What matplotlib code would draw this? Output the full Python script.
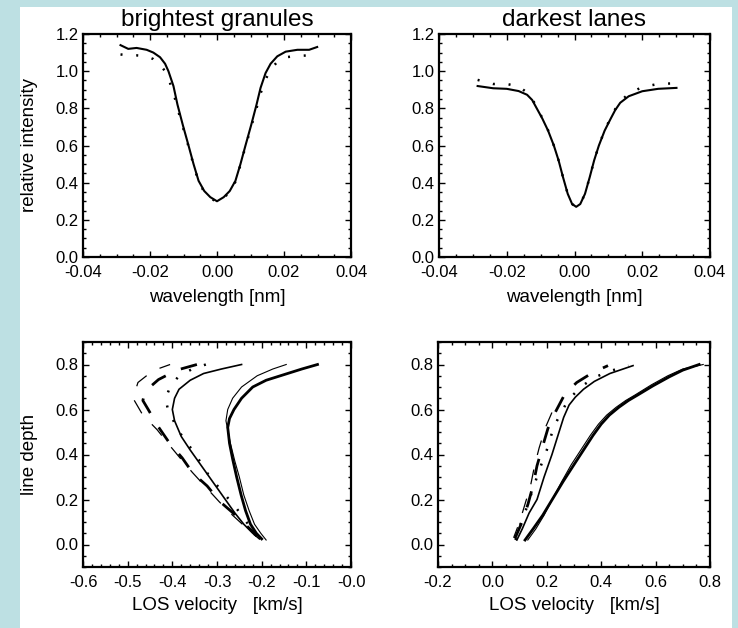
import numpy as np
import matplotlib
matplotlib.use("Agg")
import matplotlib.pyplot as plt
from matplotlib.patches import Rectangle
from matplotlib.ticker import MultipleLocator

plt.rcParams['font.family'] = ['Liberation Sans', 'DejaVu Sans']
plt.rcParams['axes.unicode_minus'] = False

# ---- top row: line profiles (wavelength [nm] vs relative intensity) ----
gran_wl = [-0.0288, -0.0265, -0.0240, -0.0210, -0.0190, -0.0170, -0.0155, -0.0145,
           -0.0130, -0.0118, -0.0102, -0.0085, -0.0070, -0.0055, -0.0038, -0.0020,
           0.0000, 0.0020, 0.0038, 0.0055, 0.0070, 0.0085, 0.0102, 0.0118,
           0.0130, 0.0145, 0.0160, 0.0180, 0.0205, 0.0240, 0.0275, 0.0299]
gran_obs = [1.140, 1.120, 1.125, 1.115, 1.100, 1.075, 1.040, 1.000,
            0.920, 0.820, 0.710, 0.600, 0.500, 0.410, 0.355, 0.322,
            0.300, 0.322, 0.355, 0.410, 0.500, 0.600, 0.710, 0.820,
            0.910, 0.990, 1.040, 1.080, 1.105, 1.115, 1.115, 1.130]
gran_sim = [1.090, 1.085, 1.085, 1.080, 1.065, 1.035, 1.000, 0.960,
            0.885, 0.800, 0.700, 0.595, 0.495, 0.405, 0.350, 0.318,
            0.295, 0.318, 0.350, 0.405, 0.495, 0.595, 0.700, 0.800,
            0.880, 0.955, 1.010, 1.050, 1.075, 1.082, 1.085, 1.090]

lane_wl = [-0.0286, -0.0240, -0.0200, -0.0165, -0.0140, -0.0125, -0.0113, -0.0095,
           -0.0078, -0.0061, -0.0047, -0.0034, -0.0020, -0.0007, 0.0005, 0.0017,
           0.0031, 0.0045, 0.0058, 0.0072, 0.0089, 0.0107, 0.0120, 0.0135,
           0.0160, 0.0200, 0.0247, 0.0301]
lane_obs = [0.920, 0.908, 0.905, 0.893, 0.873, 0.845, 0.805, 0.745,
            0.680, 0.600, 0.520, 0.430, 0.340, 0.285, 0.270, 0.285,
            0.340, 0.430, 0.520, 0.600, 0.680, 0.745, 0.790, 0.830,
            0.865, 0.892, 0.905, 0.910]
lane_sim = [0.953, 0.931, 0.931, 0.918, 0.885, 0.852, 0.810, 0.748,
            0.682, 0.600, 0.520, 0.430, 0.340, 0.285, 0.270, 0.285,
            0.340, 0.430, 0.520, 0.600, 0.682, 0.750, 0.795, 0.838,
            0.878, 0.915, 0.931, 0.935]

# ---- bottom row: bisectors (LOS velocity [km/s] vs line depth) ----
g_thick_v = [-0.075, -0.110, -0.150, -0.190, -0.220, -0.245, -0.262, -0.272, -0.276,
             -0.272, -0.265, -0.256, -0.246, -0.236, -0.225, -0.212, -0.200]
g_thick_d = [0.80, 0.78, 0.755, 0.73, 0.70, 0.65, 0.60, 0.56, 0.52,
             0.45, 0.38, 0.30, 0.22, 0.15, 0.09, 0.05, 0.025]
g_thin_v = [-0.145, -0.175, -0.210, -0.245, -0.265, -0.276, -0.280, -0.270,
            -0.260, -0.250, -0.240, -0.228, -0.216, -0.202, -0.190]
g_thin_d = [0.80, 0.78, 0.75, 0.70, 0.65, 0.60, 0.55, 0.45,
            0.37, 0.30, 0.22, 0.15, 0.09, 0.05, 0.02]
g_med_v = [-0.245, -0.290, -0.330, -0.360, -0.385, -0.395, -0.400, -0.395, -0.380,
           -0.360, -0.335, -0.310, -0.285, -0.260, -0.240, -0.220, -0.205]
g_med_d = [0.80, 0.78, 0.76, 0.73, 0.69, 0.65, 0.60, 0.55, 0.48,
           0.42, 0.35, 0.28, 0.21, 0.14, 0.09, 0.05, 0.025]
g_dot_v = [-0.325, -0.355, -0.385, -0.405, -0.415, -0.410, -0.395, -0.375,
           -0.355, -0.335, -0.316, -0.290, -0.256, -0.237, -0.215]
g_dot_d = [0.80, 0.78, 0.75, 0.70, 0.65, 0.60, 0.54, 0.47,
           0.42, 0.36, 0.30, 0.24, 0.16, 0.108, 0.05]
g_dash_v = [-0.345, -0.390, -0.431, -0.461, -0.466, -0.454, -0.432, -0.405,
            -0.378, -0.354, -0.322, -0.293, -0.264, -0.235, -0.210]
g_dash_d = [0.80, 0.775, 0.733, 0.681, 0.64, 0.60, 0.525, 0.447,
            0.385, 0.317, 0.26, 0.19, 0.14, 0.085, 0.04]
g_tdash_v = [-0.405, -0.443, -0.477, -0.488, -0.466, -0.434, -0.410,
             -0.385, -0.355, -0.325, -0.295, -0.265, -0.235, -0.212]
g_tdash_d = [0.80, 0.773, 0.72, 0.65, 0.575, 0.51, 0.45,
             0.39, 0.32, 0.255, 0.19, 0.13, 0.075, 0.035]

l_thick_v = [0.12, 0.15, 0.185, 0.22, 0.26, 0.30, 0.335, 0.37, 0.40, 0.43, 0.465,
             0.50, 0.535, 0.59, 0.65, 0.70, 0.76]
l_thick_d = [0.02, 0.07, 0.13, 0.20, 0.28, 0.355, 0.42, 0.485, 0.535, 0.575, 0.61,
             0.64, 0.665, 0.705, 0.745, 0.775, 0.80]
l_thin_v = [0.13, 0.16, 0.19, 0.22, 0.255, 0.29, 0.325, 0.36, 0.39, 0.42, 0.455,
            0.49, 0.525, 0.585, 0.645, 0.70, 0.775]
l_thin_d = [0.02, 0.07, 0.13, 0.20, 0.28, 0.355, 0.42, 0.485, 0.535, 0.575, 0.61,
            0.64, 0.665, 0.71, 0.75, 0.78, 0.80]
l_med_v = [0.09, 0.11, 0.135, 0.164, 0.19, 0.219, 0.245, 0.262, 0.282, 0.305, 0.335,
           0.375, 0.432, 0.517]
l_med_d = [0.02, 0.07, 0.14, 0.20, 0.30, 0.40, 0.50, 0.565, 0.62, 0.655, 0.69,
           0.725, 0.76, 0.795]
l_dot_v = [0.085, 0.10, 0.125, 0.15, 0.172, 0.20, 0.225, 0.25, 0.28, 0.33, 0.38, 0.43, 0.50]
l_dot_d = [0.02, 0.08, 0.16, 0.25, 0.33, 0.42, 0.52, 0.58, 0.645, 0.705, 0.745, 0.77, 0.795]
l_dash_v = [0.083, 0.109, 0.131, 0.149, 0.164, 0.182, 0.204, 0.230, 0.267, 0.310, 0.370, 0.425]
l_dash_d = [0.027, 0.10, 0.18, 0.26, 0.35, 0.425, 0.515, 0.585, 0.67, 0.72, 0.765, 0.795]
l_tdash_v = [0.078, 0.10, 0.12, 0.14, 0.155, 0.172, 0.195, 0.22]
l_tdash_d = [0.03, 0.10, 0.18, 0.26, 0.35, 0.43, 0.52, 0.59]

# tick values / labels
wl_ticks = [-0.04, -0.02, 0.00, 0.02, 0.04]
wl_labels = ['-0.04', '-0.02', '0.00', '0.02', '0.04']
int_ticks = [0.0, 0.2, 0.4, 0.6, 0.8, 1.0, 1.2]
int_labels = ['0.0', '0.2', '0.4', '0.6', '0.8', '1.0', '1.2']
depth_ticks = [0.0, 0.2, 0.4, 0.6, 0.8]
depth_labels = ['0.0', '0.2', '0.4', '0.6', '0.8']
vg_ticks = [-0.6, -0.5, -0.4, -0.3, -0.2, -0.1, 0.0]
vg_labels = ['-0.6', '-0.5', '-0.4', '-0.3', '-0.2', '-0.1', '-0.0']
vl_ticks = [-0.2, 0.0, 0.2, 0.4, 0.6, 0.8]
vl_labels = ['-0.2', '0.0', '0.2', '0.4', '0.6', '0.8']

W, H = 738, 628
fig = plt.figure(figsize=(W / 100, H / 100), dpi=100)
fig.patch.set_facecolor('#bde0e3')
fig.patches.append(Rectangle((20 / W, 0), 712 / W, 621 / H, transform=fig.transFigure,
                             facecolor='white', edgecolor='none', zorder=-5))

def px_axes(l, t, r, b):
    return fig.add_axes([l / W, 1 - b / H, (r - l) / W, (b - t) / H])

ax_tl = px_axes(83, 34, 351, 257)
ax_tr = px_axes(439, 34, 710, 257)
ax_bl = px_axes(83, 342, 351, 567)
ax_br = px_axes(438, 342, 710, 567)

tick_fs = 12
lab_fs = 13.5
title_fs = 17.5

def style(ax, xt, xl, yt, yl, xminor, yminor):
    ax.set_xticks(xt)
    ax.set_xticklabels(xl)
    ax.set_yticks(yt)
    ax.set_yticklabels(yl)
    ax.xaxis.set_minor_locator(MultipleLocator(xminor))
    ax.yaxis.set_minor_locator(MultipleLocator(yminor))
    ax.tick_params(which='both', direction='in', top=True, right=True, width=1, colors='black')
    ax.tick_params(which='major', length=4.5, labelsize=tick_fs)
    ax.tick_params(which='minor', length=2.2)
    ax.tick_params(axis='x', which='major', pad=6)
    ax.tick_params(axis='y', which='major', pad=3)
    for s in ax.spines.values():
        s.set_linewidth(1.6)
    ax.set_facecolor('white')

def ylab(ax, text):
    ax.set_ylabel(text, fontsize=lab_fs, va='center')
    ax.yaxis.set_label_coords(-0.198, 0.5)

dots = (0, (0.8, 5.5))

ax_tl.plot(gran_wl, gran_obs, color='black', lw=1.5)
ax_tl.plot(gran_wl, gran_sim, color='black', lw=1.8, linestyle=dots)
ax_tl.set_xlim(-0.04, 0.04)
ax_tl.set_ylim(0.0, 1.2)
style(ax_tl, wl_ticks, wl_labels, int_ticks, int_labels, 0.005, 0.05)
ax_tl.set_title('brightest granules', fontsize=title_fs, pad=6)
ax_tl.set_xlabel('wavelength [nm]', fontsize=lab_fs, labelpad=6)
ylab(ax_tl, 'relative intensity')

ax_tr.plot(lane_wl, lane_obs, color='black', lw=1.5)
ax_tr.plot(lane_wl, lane_sim, color='black', lw=1.8, linestyle=dots)
ax_tr.set_xlim(-0.04, 0.04)
ax_tr.set_ylim(0.0, 1.2)
style(ax_tr, wl_ticks, wl_labels, int_ticks, int_labels, 0.005, 0.05)
ax_tr.set_title('darkest lanes', fontsize=title_fs, pad=6)
ax_tr.set_xlabel('wavelength [nm]', fontsize=lab_fs, labelpad=6)

def bisectors(ax, thick, thin, med, dot, dash, tdash):
    ax.plot(*thick, color='black', lw=2.0)
    ax.plot(*thin, color='black', lw=0.8)
    ax.plot(*med, color='black', lw=1.2)
    ax.plot(*dot, color='black', lw=1.8, linestyle=dots)
    ax.plot(*dash, color='black', lw=2.0, linestyle=(0, (6, 6)))
    ax.plot(*tdash, color='black', lw=0.9, linestyle=(3, (12, 12)))

bisectors(ax_bl, (g_thick_v, g_thick_d), (g_thin_v, g_thin_d), (g_med_v, g_med_d),
          (g_dot_v, g_dot_d), (g_dash_v, g_dash_d), (g_tdash_v, g_tdash_d))
ax_bl.set_xlim(-0.6, 0.0)
ax_bl.set_ylim(-0.1, 0.9)
style(ax_bl, vg_ticks, vg_labels, depth_ticks, depth_labels, 0.02, 0.05)
ax_bl.set_xlabel('LOS velocity   [km/s]', fontsize=lab_fs, labelpad=5)
ylab(ax_bl, 'line depth')

bisectors(ax_br, (l_thick_v, l_thick_d), (l_thin_v, l_thin_d), (l_med_v, l_med_d),
          (l_dot_v, l_dot_d), (l_dash_v, l_dash_d), (l_tdash_v, l_tdash_d))
ax_br.set_xlim(-0.2, 0.8)
ax_br.set_ylim(-0.1, 0.9)
style(ax_br, vl_ticks, vl_labels, depth_ticks, depth_labels, 0.05, 0.05)
ax_br.set_xlabel('LOS velocity   [km/s]', fontsize=lab_fs, labelpad=5)

fig.savefig('out.png', dpi=100, facecolor=fig.get_facecolor())
